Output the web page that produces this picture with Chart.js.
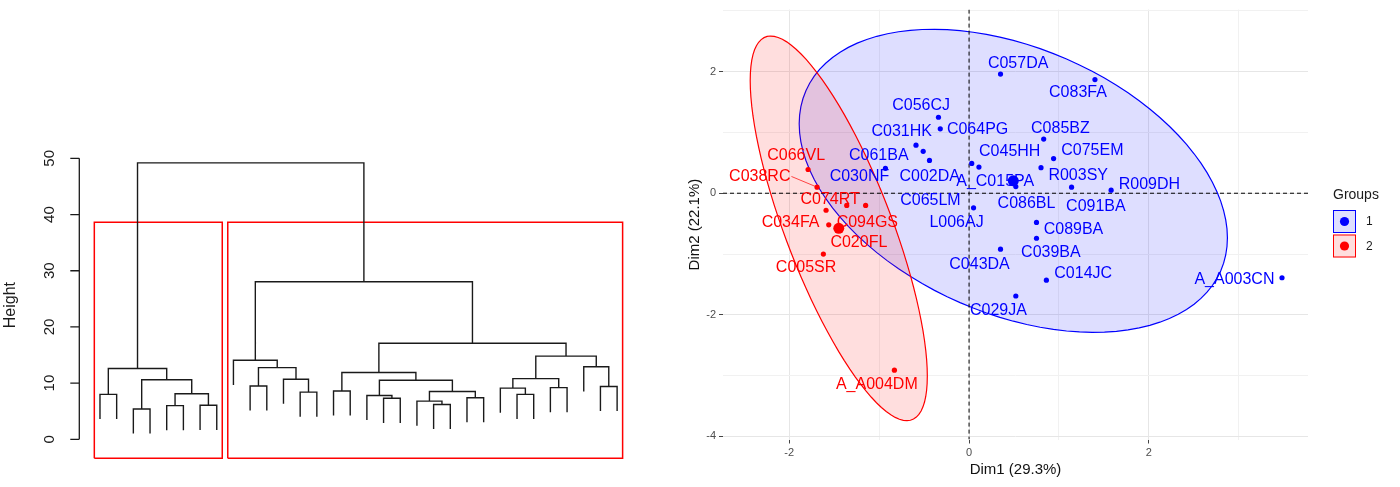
<!DOCTYPE html>
<html>
<head>
<meta charset="utf-8">
<script src="https://cdn.jsdelivr.net/npm/chart.js@4.4.1/dist/chart.umd.min.js"></script>
<style>
  html, body { margin: 0; padding: 0; background: #fff; width: 1400px; height: 487px; overflow: hidden; }
  .box { position: absolute; top: 0; height: 487px; }
  #dendroBox { left: 0; width: 660px; }
  #pcaBox { left: 660px; width: 740px; }
</style>
</head>
<body>
<div class="box" id="dendroBox"><canvas id="dendro"></canvas></div>
<div class="box" id="pcaBox"><canvas id="pca"></canvas></div>
<script>
// ---- dendrogram (hclust style: negative = leaf in plot order, positive = earlier merge) ----
const merges = [
  [-1, -2], [-3, -4], [-5, -6], [-7, -8], [3, 4], [2, 5], [1, 6],
  [-10, -11], [-13, -14], [-12, 9], [8, 10], [-9, 11],
  [-15, -16], [-18, -19], [-17, 14], [-21, -22], [-20, 16], [-23, -24], [17, 18], [15, 19], [13, 20],
  [-26, -27], [-25, 22], [-28, -29], [23, 24], [-31, -32], [-30, 26], [25, 27], [21, 28],
  [12, 29], [7, 30]
];
const mergeHeights = [
  8.0, 5.4, 6.0, 6.05, 8.1, 10.6, 12.6,
  9.5, 8.4, 10.7, 12.75, 14.06,
  8.6, 7.3, 7.8, 6.2, 6.8, 7.4, 8.5, 10.5, 11.9,
  8.0, 9.1, 9.2, 10.8, 9.4, 12.9, 14.8, 17.1,
  28.05, 49.2
];
const clusterSizes = [8, 24];
const heightTicks = [0, 10, 20, 30, 40, 50];

// ---- PCA individuals ----
const blueNames = ['C057DA', 'C083FA', 'C056CJ', 'C064PG', 'C031HK', 'C061BA', 'C002DA', 'C030NF',
  'C065LM', 'C045HH', 'C085BZ', 'C075EM', 'R003SY', 'C091BA', 'R009DH', 'A_C015PA', 'C086BL',
  'L006AJ', 'C089BA', 'C039BA', 'C043DA', 'C014JC', 'C029JA', 'A_A003CN'];
const blueDim1 = [0.35, 1.40, -0.34, -0.32, -0.59, -0.51, -0.44, -0.93,
  0.03, 0.11, 0.83, 0.94, 0.80, 1.14, 1.58, 0.48, 0.52,
  0.05, 0.75, 0.75, 0.35, 0.86, 0.52, 3.48];
const blueDim2 = [1.96, 1.87, 1.25, 1.06, 0.79, 0.69, 0.54, 0.41,
  0.49, 0.43, 0.89, 0.57, 0.42, 0.10, 0.05, 0.16, 0.11,
  -0.24, -0.48, -0.74, -0.92, -1.43, -1.69, -1.39];

const redNames = ['C066VL', 'C038RC', 'C074RT', 'C034FA', 'C094GS', 'C020FL', 'C005SR', 'A_A004DM'];
const redDim1 = [-1.79, -1.69, -1.36, -1.59, -1.15, -1.56, -1.62, -0.83];
const redDim2 = [0.39, 0.10, -0.20, -0.28, -0.20, -0.52, -1.00, -2.91];

const dim1Ticks = [-2, -1, 0, 1, 2, 3];
const dim2Ticks = [-4, -3, -2, -1, 0, 1, 2, 3];
const groupLabels = ['1', '2'];

// label placement (pixel offsets from each point, like ggrepel output)
const blueLabelDx = [17.6, -17, -17.3, 37.3, -14.3, -44.4, 0.2, -26, -41.3, 30.8, 16.7, 38.8, 37.2, 24.3, 38.3, -17, 10.7, -17, 37, 14.4, -21, 36.8, -17.4, -47.6];
const blueLabelDy = [-10.6, 13.3, -11.6, 1, -13.6, 4.4, 16.6, 8.6, 36.7, -15, -11, -8, 8, 19.3, -5.3, -2, 17, 14.3, 7, 14.7, 15, -6.6, 14.3, 2];
const redLabelDx = [-11.9, -57.3, -16.7, -35.5, 1.7, 30.1, -17.3, -17.6];
const redLabelDy = [-14, -10.7, -5.6, 12.7, 16.7, 17.7, 13.3, 14.3];
const leaderNames = ['C038RC'];

const BLUE = '#0000ff';
const RED = '#ff0000';
const FONT = '"Liberation Sans", Arial, Helvetica, sans-serif';

// ---------- dendrogram geometry ----------
const hang = 0.1 * (Math.max(...mergeHeights) - Math.min(...mergeHeights));
const nodes = [];
const treePts = [];
merges.forEach(([a, b], i) => {
  const h = mergeHeights[i];
  const ca = a < 0 ? { x: -a, y: h - hang } : nodes[a - 1];
  const cb = b < 0 ? { x: -b, y: h - hang } : nodes[b - 1];
  treePts.push({ x: ca.x, y: ca.y }, { x: ca.x, y: h }, { x: cb.x, y: h }, { x: cb.x, y: cb.y }, { x: ca.x, y: null });
  nodes.push({ x: (ca.x + cb.x) / 2, y: h });
});

const dendroYMin = -3.38;
const sortedH = [...mergeHeights].sort((p, q) => q - p);
const k = clusterSizes.length;
const rectTop = (sortedH[k - 2] + sortedH[k - 1]) / 2;
const rectPts = [];
let cum = 0;
clusterSizes.forEach(n => {
  const x1 = cum + 0.66, x2 = cum + n + 0.33;
  rectPts.push({ x: x1, y: dendroYMin }, { x: x1, y: rectTop }, { x: x2, y: rectTop }, { x: x2, y: dendroYMin }, { x: x1, y: dendroYMin }, { x: x1, y: null });
  cum += n;
});
const nLeaves = clusterSizes.reduce((s, v) => s + v, 0);

const dendroAxis = {
  id: 'dendroAxis',
  afterDraw(chart) {
    const { ctx, chartArea, scales: { y } } = chart;
    const x0 = chartArea.left;
    ctx.save();
    ctx.strokeStyle = '#1a1a1a';
    ctx.lineWidth = 1.3;
    ctx.beginPath();
    ctx.moveTo(x0, y.getPixelForValue(heightTicks[0]));
    ctx.lineTo(x0, y.getPixelForValue(heightTicks[heightTicks.length - 1]));
    heightTicks.forEach(v => {
      const py = y.getPixelForValue(v);
      ctx.moveTo(x0, py);
      ctx.lineTo(x0 - 9, py);
    });
    ctx.stroke();
    ctx.fillStyle = '#1a1a1a';
    ctx.textAlign = 'center';
    ctx.textBaseline = 'middle';
    ctx.font = '15px ' + FONT;
    heightTicks.forEach(v => {
      ctx.save();
      ctx.translate(x0 - 29, y.getPixelForValue(v));
      ctx.rotate(-Math.PI / 2);
      ctx.fillText(String(v), 0, 0);
      ctx.restore();
    });
    ctx.font = '16px ' + FONT;
    ctx.translate(11, (chartArea.top + chartArea.bottom) / 2);
    ctx.rotate(-Math.PI / 2);
    ctx.fillText('Height', 0, 0);
    ctx.restore();
  }
};

new Chart(document.getElementById('dendro'), {
  type: 'scatter',
  data: {
    datasets: [
      { data: treePts, showLine: true, borderColor: '#1a1a1a', borderWidth: 1.4, pointRadius: 0, spanGaps: false },
      { data: rectPts, showLine: true, borderColor: RED, borderWidth: 1.5, pointRadius: 0, spanGaps: false, clip: false }
    ]
  },
  options: {
    responsive: true,
    maintainAspectRatio: false,
    animation: false,
    layout: { padding: { left: 79.3, right: 22.2, top: 152, bottom: 28.7 } },
    plugins: { legend: { display: false }, tooltip: { enabled: false } },
    scales: {
      x: { type: 'linear', display: false, min: 1 - 0.04 * (nLeaves - 1), max: nLeaves + 0.04 * (nLeaves - 1) },
      y: { type: 'linear', display: false, min: dendroYMin, max: 51.13 }
    }
  },
  plugins: [dendroAxis]
});

// ---------- PCA plot ----------
const groups = [
  { names: blueNames, d1: blueDim1, d2: blueDim2, dx: blueLabelDx, dy: blueLabelDy, color: BLUE, fill: 'rgba(0,0,255,0.13)' },
  { names: redNames, d1: redDim1, d2: redDim2, dx: redLabelDx, dy: redLabelDy, color: RED, fill: 'rgba(255,0,0,0.13)' }
];
const mean = a => a.reduce((s, v) => s + v, 0) / a.length;

// normal data ellipse, level 0.95 (same construction as stat_ellipse)
function ellipse(xs, ys, level) {
  const n = xs.length, mx = mean(xs), my = mean(ys);
  let sxx = 0, syy = 0, sxy = 0;
  for (let i = 0; i < n; i++) {
    sxx += (xs[i] - mx) ** 2;
    syy += (ys[i] - my) ** 2;
    sxy += (xs[i] - mx) * (ys[i] - my);
  }
  sxx /= n - 1; syy /= n - 1; sxy /= n - 1;
  const d = n - 1;
  const fq = (d / 2) * (Math.pow(1 - level, -2 / d) - 1);
  const r = Math.sqrt(2 * fq);
  const a = Math.sqrt(sxx), b = sxy / a, c = Math.sqrt(syy - b * b);
  const pts = [];
  for (let i = 0; i <= 100; i++) {
    const t = (i / 100) * Math.PI * 2;
    pts.push([mx + r * a * Math.cos(t), my + r * (b * Math.cos(t) + c * Math.sin(t))]);
  }
  return pts;
}

const pcaExtras = {
  id: 'pcaExtras',
  beforeDatasetsDraw(chart) {
    const { ctx, chartArea: ca, scales: { x, y } } = chart;
    ctx.save();
    ctx.beginPath();
    ctx.rect(ca.left, ca.top, ca.right - ca.left, ca.bottom - ca.top);
    ctx.clip();
    groups.forEach(g => {
      const pts = ellipse(g.d1, g.d2, 0.95);
      ctx.beginPath();
      pts.forEach((p, i) => {
        const px = x.getPixelForValue(p[0]), py = y.getPixelForValue(p[1]);
        if (i) ctx.lineTo(px, py); else ctx.moveTo(px, py);
      });
      ctx.closePath();
      ctx.fillStyle = g.fill;
      ctx.fill();
      ctx.strokeStyle = g.color;
      ctx.lineWidth = 1.2;
      ctx.stroke();
    });
    const x0 = x.getPixelForValue(0), y0 = y.getPixelForValue(0);
    ctx.setLineDash([4, 3]);
    ctx.strokeStyle = '#000';
    ctx.lineWidth = 1;
    ctx.beginPath();
    ctx.moveTo(x0, ca.top); ctx.lineTo(x0, ca.bottom);
    ctx.moveTo(ca.left, y0); ctx.lineTo(ca.right, y0);
    ctx.stroke();
    ctx.restore();
  },
  afterDatasetsDraw(chart) {
    const { ctx, scales: { x, y } } = chart;
    ctx.save();
    ctx.font = '16px ' + FONT;
    ctx.textAlign = 'center';
    ctx.textBaseline = 'middle';
    groups.forEach(g => {
      g.names.forEach((name, i) => {
        const px = x.getPixelForValue(g.d1[i]), py = y.getPixelForValue(g.d2[i]);
        const lx = px + g.dx[i], ly = py + g.dy[i];
        if (leaderNames.includes(name)) {
          const w = ctx.measureText(name).width;
          const ex = g.dx[i] < 0 ? lx + w / 2 + 1 : lx - w / 2 - 1;
          ctx.strokeStyle = g.color;
          ctx.lineWidth = 0.7;
          ctx.beginPath();
          ctx.moveTo(ex, ly);
          ctx.lineTo(px, py);
          ctx.stroke();
        }
        ctx.fillStyle = g.color;
        ctx.fillText(name, lx, ly);
      });
    });
    ctx.restore();
  },
  afterDraw(chart) {
    const { ctx } = chart;
    ctx.save();
    ctx.fillStyle = '#1a1a1a';
    ctx.font = '14px ' + FONT;
    ctx.textBaseline = 'middle';
    ctx.textAlign = 'left';
    ctx.fillText('Groups', 673, 195);
    groups.forEach((g, i) => {
      const top = 210 + i * 24.5;
      ctx.fillStyle = '#fff';
      ctx.fillRect(673, top, 23, 23);
      ctx.fillStyle = g.fill;
      ctx.fillRect(673, top, 23, 23);
      ctx.strokeStyle = g.color;
      ctx.lineWidth = 1;
      ctx.strokeRect(673.5, top + 0.5, 22, 22);
      ctx.fillStyle = g.color;
      ctx.beginPath();
      ctx.arc(684.5, top + 11.5, 4.6, 0, Math.PI * 2);
      ctx.fill();
      ctx.fillStyle = '#1a1a1a';
      ctx.font = '12px ' + FONT;
      ctx.fillText(groupLabels[i], 706, top + 12);
    });
    ctx.restore();
  }
};

const isMajor = v => v % 2 === 0;

new Chart(document.getElementById('pca'), {
  type: 'scatter',
  data: {
    datasets: [
      ...groups.map(g => ({
        data: g.d1.map((v, i) => ({ x: v, y: g.d2[i] })),
        pointRadius: 2.6,
        pointBackgroundColor: g.color,
        pointBorderWidth: 0
      })),
      ...groups.map(g => ({
        data: [{ x: mean(g.d1), y: mean(g.d2) }],
        pointRadius: 5.5,
        pointBackgroundColor: g.color,
        pointBorderWidth: 0
      }))
    ]
  },
  options: {
    responsive: true,
    maintainAspectRatio: false,
    animation: false,
    layout: { padding: { top: 4, right: 92, left: 0, bottom: 0 } },
    plugins: { legend: { display: false }, tooltip: { enabled: false } },
    scales: {
      x: {
        type: 'linear',
        min: -2.736,
        max: 3.769,
        afterBuildTicks: s => { s.ticks = dim1Ticks.map(v => ({ value: v })); },
        afterFit: s => { s.height = 47.5; },
        border: { display: false },
        grid: {
          color: c => isMajor(c.tick.value) ? '#e6e6e6' : '#f1f1f1',
          tickColor: c => isMajor(c.tick.value) ? '#444' : 'rgba(0,0,0,0)',
          tickLength: 4,
          lineWidth: 1
        },
        ticks: {
          autoSkip: false,
          maxRotation: 0,
          padding: 3,
          color: '#4d4d4d',
          font: { size: 11, family: FONT },
          callback: v => isMajor(v) ? String(v) : ''
        },
        title: {
          display: true,
          text: 'Dim1 (29.3%)',
          color: '#111',
          font: { size: 15, family: FONT },
          padding: { top: 0, bottom: 8 }
        }
      },
      y: {
        type: 'linear',
        min: -4.05,
        max: 3.02,
        afterBuildTicks: s => { s.ticks = dim2Ticks.map(v => ({ value: v })); },
        afterFit: s => { s.width = 63; },
        border: { display: false },
        grid: {
          color: c => isMajor(c.tick.value) ? '#e6e6e6' : '#f1f1f1',
          tickColor: c => isMajor(c.tick.value) ? '#444' : 'rgba(0,0,0,0)',
          tickLength: 4,
          lineWidth: 1
        },
        ticks: {
          autoSkip: false,
          padding: 3,
          color: '#4d4d4d',
          font: { size: 11, family: FONT },
          callback: v => isMajor(v) ? String(v) : ''
        },
        title: {
          display: true,
          text: 'Dim2 (22.1%)',
          color: '#111',
          font: { size: 15, family: FONT },
          padding: { top: 26, bottom: 0 }
        }
      }
    }
  },
  plugins: [pcaExtras]
});
</script>
</body>
</html>
